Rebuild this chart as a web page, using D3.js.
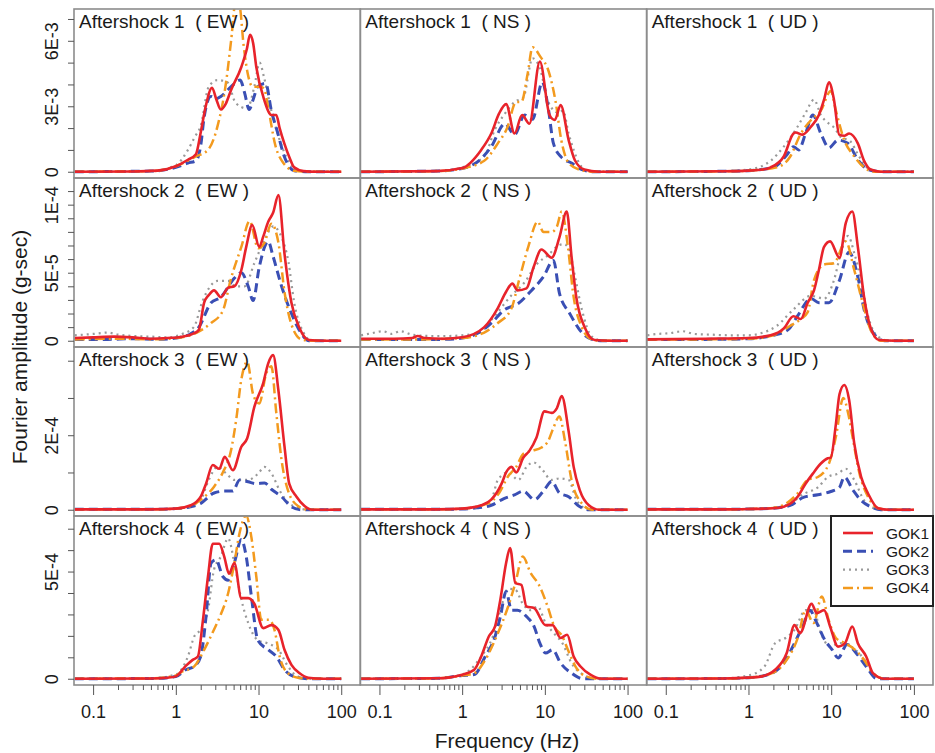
<!DOCTYPE html>
<html>
<head>
<meta charset="utf-8">
<script src="https://cdn.jsdelivr.net/npm/d3@7"></script>
<style>
  body { margin: 0; background: #fff; }
  svg text { font-family: "Liberation Sans", Arial, sans-serif; fill: #1a1a1a; }
</style>
</head>
<body>
<svg id="svg" width="935" height="753"></svg>
<script>
// stations and components
var stations = ["GOK1", "GOK2", "GOK3", "GOK4"];
var components = ["EW", "NS", "UD"];
var events = ["Aftershock 1", "Aftershock 2", "Aftershock 3", "Aftershock 4"];

// y axis per event (values below are in these units)
var rowUnit = [1e-3, 1e-5, 1e-4, 1e-4];
var rowMax = [7.17e-3, 1.15e-4, 4.2e-4, 7.3e-4];
var rowTicks = [
  [0, 1e-3, 2e-3, 3e-3, 4e-3, 5e-3, 6e-3, 7e-3],
  [0, 1e-5, 2e-5, 3e-5, 4e-5, 5e-5, 6e-5, 7e-5, 8e-5, 9e-5, 1e-4, 1.1e-4],
  [0, 1e-4, 2e-4, 3e-4, 4e-4],
  [0, 1e-4, 2e-4, 3e-4, 4e-4, 5e-4, 6e-4, 7e-4]
];
var rowLabels = [
  {0: "0", 3e-3: "3E-3", 6e-3: "6E-3"},
  {0: "0", 5e-5: "5E-5", 1e-4: "1E-4"},
  {0: "0", 2e-4: "2E-4"},
  {0: "0", 5e-4: "5E-4"}
];
var xMajor = [0.1, 1, 10, 100];
var xMinor = [0.2,0.3,0.4,0.5,0.6,0.7,0.8,0.9, 2,3,4,5,6,7,8,9, 20,30,40,50,60,70,80,90];

// [frequency Hz, amplitude in row units]
// ---- Aftershock 1 (x 1E-3)
var a1_EW_GOK1 = [[0.06,0],[0.3,0.01],[0.6,0.05],[1,0.25],[1.4,0.55],[1.75,0.8],[2.0,1.8],[2.3,3.0],[2.74,3.85],[3.1,3.3],[3.5,2.85],[4.0,3.1],[4.66,3.75],[6.2,4.8],[7.2,5.6],[7.9,6.27],[8.6,5.9],[9.4,4.8],[11.7,3.3],[14.3,2.6],[16.4,2.6],[18,2.0],[20.5,1.3],[24,0.6],[27,0.2],[35,0.03],[50,0],[100,0]];
var a1_EW_GOK2 = [[0.06,0],[0.5,0.03],[1,0.2],[1.4,0.4],[1.75,0.5],[2.0,1.2],[2.2,2.5],[2.65,3.45],[3.1,3.35],[3.5,3.45],[4.66,3.9],[6,4.2],[6.8,3.6],[7.7,2.85],[8.6,3.3],[9.8,3.9],[12.2,4.05],[14.3,2.8],[17,1.8],[20.5,0.7],[27,0.05],[40,0],[100,0]];
var a1_EW_GOK3 = [[0.06,0],[0.5,0.03],[1,0.3],[1.4,1.0],[1.7,1.6],[2.0,2.1],[2.5,3.9],[3.2,4.2],[4.2,4.1],[5.3,3.15],[7.3,2.9],[8.9,3.9],[10.3,5.0],[11.7,4.3],[14.3,2.8],[18.6,1.3],[25,0.3],[33,0.02],[100,0]];
var a1_EW_GOK4 = [[0.06,0],[0.5,0.03],[1,0.25],[1.75,0.7],[2.45,1.0],[3.2,2.1],[4.05,4.1],[4.66,6.0],[5.3,7.8],[5.9,7.6],[6.6,5.8],[7.4,4.5],[8.5,3.9],[10.5,3.9],[11.7,3.8],[13,3.0],[16,1.2],[20,0.4],[27,0.05],[40,0],[100,0]];
var a1_NS_GOK1 = [[0.06,0],[0.5,0.03],[1,0.17],[1.7,1.0],[2.25,1.75],[2.8,2.67],[3.4,3.1],[4.3,1.75],[5.3,2.6],[6.5,2.2],[8.7,5.05],[11.4,2.6],[13.2,2.37],[15.5,3.06],[19.4,1.45],[23,0.54],[30,0.1],[45,0],[100,0]];
var a1_NS_GOK2 = [[0.06,0],[0.5,0.03],[1,0.15],[1.7,0.6],[2.25,1.15],[3.3,2.2],[4.3,1.7],[5.7,2.6],[7.1,2.4],[9.3,4.1],[10.9,3.0],[12.7,1.3],[15.8,0.67],[21,0.4],[28,0.1],[40,0],[100,0]];
var a1_NS_GOK3 = [[0.06,0],[0.5,0.03],[1,0.2],[1.85,0.7],[2.5,1.95],[3.3,2.67],[4.3,3.2],[5.5,3.4],[7.1,5.2],[8.6,4.8],[11,3.2],[14.6,2.7],[16.6,2.8],[19.4,1.75],[26,0.4],[34,0],[100,0]];
var a1_NS_GOK4 = [[0.06,0],[0.5,0.03],[1,0.15],[1.85,0.5],[2.7,1.3],[3.5,2.0],[4.5,3.2],[5.2,3.2],[6.2,4.5],[7.1,5.7],[8.9,5.25],[11,4.65],[13.5,3.2],[15.8,1.45],[19.4,0.4],[26,0.1],[40,0],[100,0]];
var a1_UD_GOK1 = [[0.06,0],[0.5,0.02],[1,0.05],[1.5,0.1],[1.85,0.2],[2.67,0.7],[3.5,1.75],[3.72,1.8],[4.5,1.7],[5.66,2.05],[7.1,2.6],[8.2,3.3],[9.4,4.1],[10.8,3.3],[12.5,1.7],[14.4,1.65],[16.5,1.75],[21,1.3],[25,0.5],[30,0.1],[40,0],[100,0]];
var a1_UD_GOK2 = [[0.06,0],[0.5,0.02],[1,0.05],[2.0,0.2],[2.95,0.8],[3.5,1.15],[4.05,1.0],[4.9,1.75],[6.0,2.6],[7.5,1.75],[9.4,1.1],[12.1,1.45],[15.9,1.3],[21,0.55],[28,0.1],[40,0],[100,0]];
var a1_UD_GOK3 = [[0.06,0],[0.5,0.03],[1,0.1],[1.85,0.5],[2.67,1.15],[3.9,2.05],[4.9,2.7],[6.2,3.3],[7.5,2.6],[9.4,2.2],[11,2.0],[13,1.6],[17,1.4],[21,0.8],[27,0.2],[35,0],[100,0]];
var a1_UD_GOK4 = [[0.06,0],[0.5,0.02],[1,0.05],[2.2,0.2],[3.2,0.7],[4.3,1.75],[5.66,2.35],[7.5,2.8],[9.9,3.7],[11.4,2.8],[14.4,1.45],[19,0.7],[25,0.2],[33,0],[100,0]];
// ---- Aftershock 2 (x 1E-5)
var a2_EW_GOK1 = [[0.06,0.2],[0.1,0.25],[0.18,0.3],[0.3,0.25],[0.5,0.15],[0.8,0.2],[1.2,0.3],[1.6,0.5],[1.9,0.8],[2.2,2.8],[2.5,3.35],[2.9,3.7],[3.5,3.2],[4.3,3.9],[5.1,4.0],[6.2,5.2],[7.1,6.9],[8.4,8.5],[10.2,6.9],[11.4,7.65],[13.1,8.75],[15,9.4],[17.4,10.7],[20.6,6.4],[25,2.8],[31,1.0],[41,0.05],[60,0],[100,0]];
var a2_EW_GOK2 = [[0.06,0.1],[0.15,0.1],[0.3,0.15],[0.6,0.1],[1,0.2],[1.5,0.5],[1.9,1.0],[2.67,2.8],[3.5,3.2],[5.1,4.6],[6.2,5.0],[7.5,4.0],[8.6,2.95],[10.2,5.4],[13.1,7.3],[15,6.2],[19,4.0],[25,2.0],[31,0.8],[41,0],[100,0]];
var a2_EW_GOK3 = [[0.06,0.4],[0.1,0.5],[0.15,0.6],[0.2,0.45],[0.3,0.35],[0.5,0.3],[0.8,0.25],[1.2,0.5],[1.65,1.0],[2.1,2.9],[3.2,4.4],[4.3,4.4],[5.3,4.0],[6.8,4.0],[8.9,5.7],[11.8,7.4],[15,8.4],[19,7.6],[23,5.8],[27,2.8],[35,0.6],[44,0],[100,0]];
var a2_EW_GOK4 = [[0.06,0.1],[0.2,0.15],[0.5,0.1],[1,0.2],[1.65,0.5],[2.67,1.3],[3.7,2.2],[4.66,4.6],[6.2,6.9],[7.8,8.8],[9.9,6.8],[11.8,7.2],[14.3,8.6],[17.4,7.2],[20.6,3.6],[25,1.2],[33,0.1],[45,0],[100,0]];
var a2_NS_GOK1 = [[0.06,0.15],[0.15,0.15],[0.25,0.2],[0.29,0.35],[0.35,0.2],[0.6,0.15],[1,0.25],[1.85,1.0],[2.7,2.4],[3.4,3.6],[4.05,4.2],[4.66,3.7],[6,3.85],[7.3,5.4],[9.1,6.7],[12.1,6.1],[15,7.6],[18.4,9.5],[21,6.2],[24,3.2],[30.5,0.95],[40,0.05],[60,0],[100,0]];
var a2_NS_GOK2 = [[0.06,0.1],[0.3,0.1],[0.6,0.1],[1,0.2],[1.6,0.6],[2.25,1.3],[3.2,2.25],[4.8,2.75],[6.9,3.7],[9.6,4.7],[12.7,5.9],[15,3.5],[20,2.0],[28,0.6],[37,0.1],[50,0],[100,0]];
var a2_NS_GOK3 = [[0.06,0.4],[0.08,0.55],[0.11,0.7],[0.14,0.5],[0.18,0.7],[0.25,0.45],[0.4,0.35],[0.7,0.35],[1,0.4],[1.56,0.55],[2.45,1.8],[3.9,3.3],[5.7,4.3],[7.9,5.6],[11,6.3],[14.6,7.0],[17,7.1],[19.4,6.8],[23,4.8],[28,2.3],[37,0.3],[50,0],[100,0]];
var a2_NS_GOK4 = [[0.06,0.1],[0.3,0.1],[1,0.2],[1.85,0.6],[2.7,1.3],[3.9,2.3],[4.9,4.5],[6.3,6.9],[8.2,8.75],[9.6,8.0],[12.1,8.0],[14,8.4],[16,9.5],[19,6.9],[22.3,3.2],[28,1.0],[37,0.1],[50,0],[100,0]];
var a2_UD_GOK1 = [[0.06,0.1],[0.3,0.15],[1,0.2],[1.85,0.4],[2.67,0.9],[3.5,1.8],[4.3,1.6],[5.2,2.8],[6.2,3.7],[7.1,5.2],[8.2,6.9],[9.7,7.3],[12.6,6.1],[15,8.65],[18,9.5],[21,6.9],[25,3.2],[30,0.95],[38,0.05],[60,0],[100,0]];
var a2_UD_GOK2 = [[0.06,0.1],[0.3,0.1],[1,0.15],[2,0.4],[3.0,0.8],[3.9,1.8],[5.7,3.1],[7.1,2.8],[9.4,2.8],[12.6,4.45],[16.4,6.5],[21,4.7],[25,2.3],[32,0.6],[44,0],[100,0]];
var a2_UD_GOK3 = [[0.06,0.4],[0.08,0.5],[0.11,0.55],[0.16,0.7],[0.22,0.5],[0.35,0.45],[0.6,0.4],[1,0.4],[1.5,0.6],[2.2,1.1],[3.5,2.3],[5.7,3.3],[8.2,3.1],[10.8,4.45],[13.1,6.45],[16,7.7],[19,6.45],[23,4.45],[28,1.8],[37,0.3],[50,0],[100,0]];
var a2_UD_GOK4 = [[0.06,0.1],[0.3,0.1],[1,0.15],[2,0.4],[3.2,1.1],[4.3,1.6],[5.2,2.1],[6.2,4.45],[8.2,5.6],[10.8,5.7],[15,7.3],[19,5.2],[24,2.8],[30,0.8],[40,0],[100,0]];
// ---- Aftershock 3 (x 1E-4)
var a3_EW_GOK1 = [[0.06,0.01],[0.5,0.01],[1,0.03],[1.52,0.12],[2.0,0.35],[2.32,0.7],[2.8,1.2],[3.35,1.1],[3.9,1.42],[4.9,1.06],[6.2,1.69],[7.3,1.92],[8.9,2.76],[11.4,3.4],[13.1,3.93],[15,4.15],[17.4,3.2],[20.6,1.7],[23.5,0.7],[28.8,0.35],[36,0.1],[44,0],[100,0]];
var a3_EW_GOK2 = [[0.06,0.01],[0.5,0.01],[1,0.03],[1.5,0.08],[2.0,0.17],[2.9,0.45],[3.9,0.5],[4.9,0.5],[5.9,0.8],[7.5,0.75],[9.4,0.7],[11.8,0.72],[14.3,0.55],[19,0.35],[25,0.08],[33,0],[100,0]];
var a3_EW_GOK3 = [[0.06,0.01],[0.5,0.01],[1,0.03],[1.5,0.1],[2.0,0.27],[2.5,0.8],[3.2,1.15],[4.05,0.98],[5.1,0.8],[7.5,0.8],[9.9,0.97],[11.8,1.15],[14.3,0.98],[18,0.52],[22.7,0.2],[30,0.05],[40,0],[100,0]];
var a3_EW_GOK4 = [[0.06,0.01],[0.5,0.01],[1,0.03],[1.5,0.1],[2.0,0.27],[2.9,0.62],[3.7,1.0],[4.66,1.6],[5.36,2.4],[6.2,3.5],[7.3,3.97],[8.6,3.1],[10.2,2.85],[12.4,3.66],[14.3,3.85],[16.4,2.6],[19,1.33],[22.7,0.52],[30,0.1],[40,0],[100,0]];
var a3_NS_GOK1 = [[0.06,0.01],[0.5,0.01],[1,0.03],[1.7,0.12],[2.25,0.27],[3.0,0.7],[3.4,1.0],[3.95,1.15],[4.5,1.0],[5.5,1.4],[6.5,1.58],[7.9,1.93],[9.9,2.64],[12.1,2.6],[14,2.73],[16,3.05],[19.4,2.1],[22.3,1.15],[26.5,0.52],[34,0.12],[45,0],[100,0]];
var a3_NS_GOK2 = [[0.06,0.01],[0.5,0.01],[1,0.02],[1.5,0.05],[2.25,0.12],[3.2,0.3],[4.3,0.4],[5.5,0.5],[7.5,0.27],[9.6,0.5],[12.1,0.76],[15,0.45],[19.4,0.35],[25.7,0.1],[34,0],[100,0]];
var a3_NS_GOK3 = [[0.06,0.01],[0.5,0.01],[1,0.03],[1.6,0.1],[2.25,0.27],[2.7,0.8],[3.6,1.0],[4.8,0.8],[6.0,1.15],[7.3,1.27],[9.1,1.1],[12.1,0.8],[15,0.84],[19.4,0.8],[24,0.27],[30.5,0.04],[40,0],[100,0]];
var a3_NS_GOK4 = [[0.06,0.01],[0.5,0.01],[1,0.03],[2.06,0.17],[2.8,0.45],[3.6,0.9],[4.5,1.15],[5.5,1.5],[6.9,1.58],[9.1,1.67],[11,1.85],[12.7,2.2],[15,2.5],[17.5,1.85],[21,0.8],[28,0.17],[37,0],[100,0]];
var a3_UD_GOK1 = [[0.06,0.01],[0.5,0.01],[1,0.02],[2.0,0.04],[2.67,0.08],[3.9,0.34],[4.9,0.7],[6,0.97],[7.5,1.24],[9.1,1.38],[9.9,1.4],[11.4,2.3],[12.6,3.1],[14.4,3.35],[16.5,2.94],[19,1.78],[23,0.88],[28,0.43],[37,0.04],[50,0],[100,0]];
var a3_UD_GOK2 = [[0.06,0.01],[0.5,0.01],[1,0.02],[2,0.04],[3.2,0.12],[4.7,0.34],[6.9,0.4],[9.9,0.49],[12.6,0.6],[14.4,0.88],[18.4,0.52],[23,0.25],[30,0.08],[40,0],[100,0]];
var a3_UD_GOK3 = [[0.06,0.01],[0.5,0.01],[1,0.02],[2,0.05],[3.2,0.17],[4.7,0.43],[6.9,0.6],[9.1,0.88],[12.1,0.97],[15,1.1],[19,0.8],[25,0.25],[33,0.04],[45,0],[100,0]];
var a3_UD_GOK4 = [[0.06,0.01],[0.5,0.01],[1,0.02],[2,0.05],[3.0,0.2],[3.9,0.43],[5.2,0.8],[6.9,0.88],[9.4,1.24],[11.4,1.96],[14,3.0],[16,2.6],[18.4,1.87],[22,0.97],[28,0.34],[37,0.04],[50,0],[100,0]];
// ---- Aftershock 4 (x 1E-4)
var a4_EW_GOK1 = [[0.06,0],[0.5,0.01],[0.8,0.05],[1,0.11],[1.32,0.6],[1.6,0.88],[1.85,1.04],[2.13,2.75],[2.45,4.77],[2.8,6.3],[3.35,6.3],[3.85,5.7],[4.4,4.9],[5.1,5.4],[6.2,3.76],[7.5,3.76],[8.9,3.5],[11.4,2.36],[14.3,2.5],[17.4,2.28],[20.6,1.35],[25,0.65],[31.4,0.26],[40,0.05],[60,0],[100,0]];
var a4_EW_GOK2 = [[0.06,0],[0.5,0.01],[1,0.1],[1.32,0.42],[1.67,0.58],[2.0,1.04],[2.32,2.9],[2.67,5.4],[3.06,5.55],[3.7,4.77],[4.3,4.6],[5.1,5.4],[6.2,6.5],[7.1,5.7],[8.2,3.84],[9.8,1.8],[13.1,1.35],[16.4,1.04],[20.6,0.42],[27,0.1],[40,0],[100,0]];
var a4_EW_GOK3 = [[0.06,0],[0.5,0.02],[1,0.2],[1.4,1.04],[1.67,1.97],[2.0,2.3],[2.45,3.2],[2.9,5.1],[3.5,5.7],[4.3,6.55],[5.1,5.4],[6.2,3.7],[7.5,2.6],[9.8,1.8],[13.1,1.64],[17.4,1.35],[22.7,0.58],[30,0.1],[45,0],[100,0]];
var a4_EW_GOK4 = [[0.06,0],[0.5,0.02],[1,0.15],[1.15,0.3],[1.67,0.58],[2.2,1.35],[2.9,2.3],[3.5,3.0],[4.3,4.0],[5.1,5.4],[5.9,6.8],[7.1,7.6],[8.2,6.6],[9.4,4.77],[10.8,2.75],[13.5,2.75],[15.6,2.28],[18,1.04],[22.7,0.26],[30,0.05],[45,0],[100,0]];
var a4_NS_GOK1 = [[0.06,0],[0.5,0.02],[1,0.19],[1.4,0.42],[1.7,1.04],[2.1,1.97],[2.5,2.44],[2.9,3.7],[3.4,5.4],[3.8,6.1],[4.4,4.46],[5.2,4.38],[6.0,3.37],[7.4,3.3],[10.2,2.5],[12.4,2.5],[15.5,1.9],[18.6,2.05],[22.3,1.04],[27,0.57],[35.5,0.19],[49,0],[100,0]];
var a4_NS_GOK2 = [[0.06,0],[0.5,0.02],[1,0.15],[1.4,0.2],[1.9,1.04],[2.5,1.97],[2.9,2.9],[3.4,4.07],[3.95,3.2],[4.66,3.2],[6.0,2.9],[7.4,2.44],[8.7,1.66],[10.2,1.2],[12.4,1.35],[15.5,0.73],[21,0.26],[29,0],[100,0]];
var a4_NS_GOK3 = [[0.06,0],[0.5,0.02],[1,0.2],[1.25,0.42],[1.7,1.04],[2.35,1.97],[2.9,3.2],[3.6,4.2],[4.4,4.15],[5.4,3.5],[6.7,3.2],[8.2,3.37],[10.2,2.6],[13,2.1],[16.3,1.66],[21,0.73],[29,0.19],[40,0],[100,0]];
var a4_NS_GOK4 = [[0.06,0],[0.5,0.02],[1,0.15],[1.4,0.26],[1.9,0.88],[2.6,1.97],[3.6,3.37],[4.4,4.46],[5.4,5.7],[6.7,4.95],[8.7,4.3],[10.8,3.37],[13,2.44],[16.3,1.97],[19,1.35],[23.5,0.57],[32,0.1],[45,0],[100,0]];
var a4_UD_GOK1 = [[0.06,0],[0.5,0.01],[1,0.05],[1.4,0.1],[2.1,0.42],[2.9,1.2],[3.6,2.5],[4.2,2.13],[5.8,3.5],[6.7,3.06],[8.2,3.2],[9.7,2.44],[12.1,1.5],[14.7,1.66],[18,2.44],[21,1.66],[26.5,1.04],[32,0.26],[44,0],[100,0]];
var a4_UD_GOK2 = [[0.06,0],[0.5,0.01],[1,0.05],[1.75,0.2],[2.67,0.73],[3.6,1.66],[4.7,2.6],[5.5,3.2],[6.7,2.6],[8.4,1.8],[10.3,1.35],[12.1,0.97],[15.6,1.6],[20,1.2],[26.5,0.57],[36,0],[100,0]];
var a4_UD_GOK3 = [[0.06,0],[0.5,0.02],[1,0.15],[1.56,0.57],[2.1,1.66],[2.8,1.9],[3.6,2.28],[4.9,3.2],[6.1,3.2],[7.5,2.13],[9.7,1.5],[12.7,1.66],[17.4,1.5],[23.5,1.04],[32,0.26],[45,0],[100,0]];
var a4_UD_GOK4 = [[0.06,0],[0.5,0.01],[1,0.05],[1.93,0.26],[2.9,0.88],[4.0,1.97],[4.9,3.2],[6.1,2.6],[7.7,3.84],[9.3,2.75],[11.4,1.9],[14.7,1.66],[19.5,1.35],[25,0.88],[32,0.26],[44,0],[100,0]];

var spectra = [
  [[a1_EW_GOK1, a1_EW_GOK2, a1_EW_GOK3, a1_EW_GOK4], [a1_NS_GOK1, a1_NS_GOK2, a1_NS_GOK3, a1_NS_GOK4], [a1_UD_GOK1, a1_UD_GOK2, a1_UD_GOK3, a1_UD_GOK4]],
  [[a2_EW_GOK1, a2_EW_GOK2, a2_EW_GOK3, a2_EW_GOK4], [a2_NS_GOK1, a2_NS_GOK2, a2_NS_GOK3, a2_NS_GOK4], [a2_UD_GOK1, a2_UD_GOK2, a2_UD_GOK3, a2_UD_GOK4]],
  [[a3_EW_GOK1, a3_EW_GOK2, a3_EW_GOK3, a3_EW_GOK4], [a3_NS_GOK1, a3_NS_GOK2, a3_NS_GOK3, a3_NS_GOK4], [a3_UD_GOK1, a3_UD_GOK2, a3_UD_GOK3, a3_UD_GOK4]],
  [[a4_EW_GOK1, a4_EW_GOK2, a4_EW_GOK3, a4_EW_GOK4], [a4_NS_GOK1, a4_NS_GOK2, a4_NS_GOK3, a4_NS_GOK4], [a4_UD_GOK1, a4_UD_GOK2, a4_UD_GOK3, a4_UD_GOK4]]
];

// line styles, like R lty solid / dashed / dotted / dotdash
var styles = {
  GOK1: {color: "#e8232b", width: 2.6, dash: null},
  GOK2: {color: "#3a4fb4", width: 3, dash: "9,5"},
  GOK3: {color: "#999999", width: 2.2, dash: "2,4"},
  GOK4: {color: "#f39a1e", width: 2.5, dash: "10,4,2,4"}
};
var drawOrder = [2, 1, 3, 0];

var svg = d3.select("#svg");
// note: "top" is taken by window.top, so plot edges get their own names
var plotL = 74, plotR = 933, plotT = 9, plotB = 685;
var pw = (plotR - plotL) / 3, ph = (plotB - plotT) / 4;
var xDomain = [Math.pow(10, -1.231), Math.pow(10, 2.231)];
var font = "Liberation Sans, Arial, sans-serif";

events.forEach(function(ev, r) {
  var py = plotT + r * ph;
  var ymax = rowMax[r];
  var y = d3.scaleLinear().domain([-0.04 * ymax, 1.04 * ymax]).range([py + ph, py]);

  components.forEach(function(comp, c) {
    var px = plotL + c * pw;
    var x = d3.scaleLog().domain(xDomain).range([px, px + pw]);
    var g = svg.append("g");
    var clipId = "clip" + r + c;
    svg.append("clipPath").attr("id", clipId)
      .append("rect").attr("x", px).attr("y", py).attr("width", pw).attr("height", ph);

    var line = d3.line()
      .x(function(d) { return x(d[0]); })
      .y(function(d) { return y(d[1] * rowUnit[r]); })
      .curve(d3.curveMonotoneX);

    var lines = g.append("g").attr("clip-path", "url(#" + clipId + ")");
    drawOrder.forEach(function(s) {
      var st = styles[stations[s]];
      lines.append("path")
        .attr("d", line(spectra[r][c][s]))
        .attr("fill", "none")
        .attr("stroke", st.color)
        .attr("stroke-width", st.width)
        .attr("stroke-dasharray", st.dash)
        .attr("stroke-linejoin", "round");
    });

    g.append("rect")
      .attr("x", px).attr("y", py).attr("width", pw).attr("height", ph)
      .attr("fill", "none").attr("stroke", "#8c8c8c").attr("stroke-width", 1.6);

    g.append("text")
      .attr("x", px + 5).attr("y", py + 19)
      .attr("font-size", 19)
      .style("white-space", "pre")
      .text(ev + "  ( " + comp + " )");

    if (c === 0) {
      var yAxis = d3.axisLeft(y).tickValues(rowTicks[r]).tickSize(6)
        .tickFormat(function(d) { return rowLabels[r][d] || ""; });
      var ga = svg.append("g").attr("transform", "translate(" + plotL + ",0)").call(yAxis);
      ga.select(".domain").remove();
      ga.selectAll("line").attr("stroke", "#555");
      ga.selectAll("text")
        .attr("x", null).attr("dy", null)
        .attr("font-family", font).attr("font-size", 18).attr("fill", "#222")
        .attr("text-anchor", "middle")
        .attr("transform", "translate(-16,0) rotate(-90)");
    }

    if (r === events.length - 1) {
      var gmin = svg.append("g").attr("transform", "translate(0," + plotB + ")")
        .call(d3.axisBottom(x).tickValues(xMinor).tickSize(5).tickFormat(""));
      gmin.select(".domain").remove();
      gmin.selectAll("line").attr("stroke", "#555");
      var gmaj = svg.append("g").attr("transform", "translate(0," + plotB + ")")
        .call(d3.axisBottom(x).tickValues(xMajor).tickSize(10).tickFormat(function(d) { return String(d); }));
      gmaj.select(".domain").remove();
      gmaj.selectAll("line").attr("stroke", "#555");
      gmaj.selectAll("text")
        .attr("y", 33).attr("dy", null)
        .attr("font-family", font).attr("font-size", 18).attr("fill", "#222");
    }
  });
});

// axis titles
svg.append("text")
  .attr("transform", "translate(27," + ((plotT + plotB) / 2) + ") rotate(-90)")
  .attr("text-anchor", "middle").attr("font-size", 21)
  .text("Fourier amplitude (g-sec)");
svg.append("text")
  .attr("x", 507).attr("y", 748)
  .attr("text-anchor", "middle").attr("font-size", 21)
  .text("Frequency (Hz)");

// legend
var lg = svg.append("g");
var lx = 831, ly = 516;
lg.append("rect").attr("x", lx).attr("y", ly).attr("width", 102).attr("height", 90)
  .attr("fill", "#fff").attr("stroke", "#222").attr("stroke-width", 2);
stations.forEach(function(s, i) {
  var st = styles[s];
  var yy = ly + 17 + i * 18.3;
  lg.append("line")
    .attr("x1", lx + 12).attr("x2", lx + 42).attr("y1", yy).attr("y2", yy)
    .attr("stroke", st.color).attr("stroke-width", st.width)
    .attr("stroke-dasharray", st.dash);
  lg.append("text").attr("x", lx + 55).attr("y", yy + 5.5)
    .attr("font-size", 15.5).text(s);
});
</script>
</body>
</html>
